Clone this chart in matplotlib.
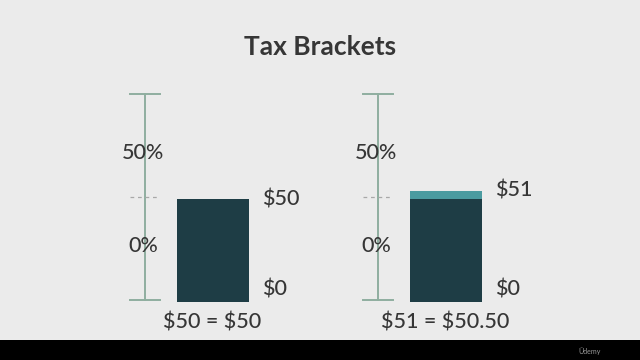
import matplotlib.pyplot as plt
from matplotlib.patches import Rectangle

plt.rcParams['font.family'] = ['Lato', 'DejaVu Sans']
plt.rcParams['text.parse_math'] = False

# data
panels = ["left", "right"]
base_values = [50, 50]          # part taxed at 0%
extra_values = [0, 4]           # part above the bracket (drawn exaggerated in the slide)
bracket_limit = 50
axis_top = 100
top_labels = ["$50", "$51"]
bottom_labels = ["$0", "$0"]
rate_labels = ["0%", "50%"]
equations = ["$50 = $50", "$51 = $50.50"]

bg = "#ebebeb"
text_col = "#363636"
axis_col = "#8fae9f"
dark = "#1e3d45"
teal = "#4b9ba0"

fig = plt.figure(figsize=(6.4, 3.6), dpi=100)
fig.patch.set_facecolor(bg)

# black strip at bottom of the video frame
fig.patches.append(Rectangle((0, 0), 1, 20 / 360, transform=fig.transFigure,
                             facecolor="black", edgecolor="none"))
fig.text(590 / 640, 9 / 360, "Ūdemy", color="#9a9a9a", fontsize=5, ha="center", va="center")

fig.text(0.5, 313 / 360, "Tax Brackets", ha="center", va="center",
         fontsize=19, fontweight="bold", color=text_col)

unit = 30  # px per x unit
y0 = 60 / 360
y1 = 266 / 360
lab = dict(fontsize=15.5, color=text_col, fontweight="medium")
for i, name in enumerate(panels):
    axis_px = 145 + 233 * i
    left_px, right_px = axis_px - 45, axis_px + 175
    ax = fig.add_axes([left_px / 640, y0, (right_px - left_px) / 640, y1 - y0])
    ax.set_xlim((left_px - axis_px) / unit, (right_px - axis_px) / unit)
    ax.set_ylim(0, axis_top)
    ax.axis("off")

    # vertical scale with end caps
    ax.plot([0, 0], [0, axis_top], color=axis_col, lw=1.4, clip_on=False)
    ax.plot([-0.5, 0.5], [0, 0], color=axis_col, lw=1.4, clip_on=False)
    ax.plot([-0.5, 0.5], [axis_top, axis_top], color=axis_col, lw=1.4, clip_on=False)
    ax.plot([-0.5, 0.5], [bracket_limit, bracket_limit], color="#a8a8a8", lw=0.9,
            ls=(0, (3, 3)), clip_on=False)

    # bars
    ax.bar(2.25, base_values[i], width=2.4, bottom=-1, color=dark, clip_on=False)
    if extra_values[i]:
        ax.bar(2.25, extra_values[i], width=2.4, bottom=base_values[i] - 1,
               color=teal, clip_on=False)

    # rate labels on the scale
    ax.text(-0.07, 71.5, rate_labels[1], ha="center", va="center", **lab)
    ax.text(-0.07, 26, rate_labels[0], ha="center", va="center", **lab)

    top = base_values[i] + extra_values[i]
    ax.text(3.9, top - 1, top_labels[i], ha="left", va="center", **lab)
    ax.text(3.9, 5, bottom_labels[i], ha="left", va="center", **lab)
    ax.text(2.25, -11, equations[i], ha="center", va="center", clip_on=False, **lab)

fig.savefig("out.png", dpi=100, facecolor=bg)
